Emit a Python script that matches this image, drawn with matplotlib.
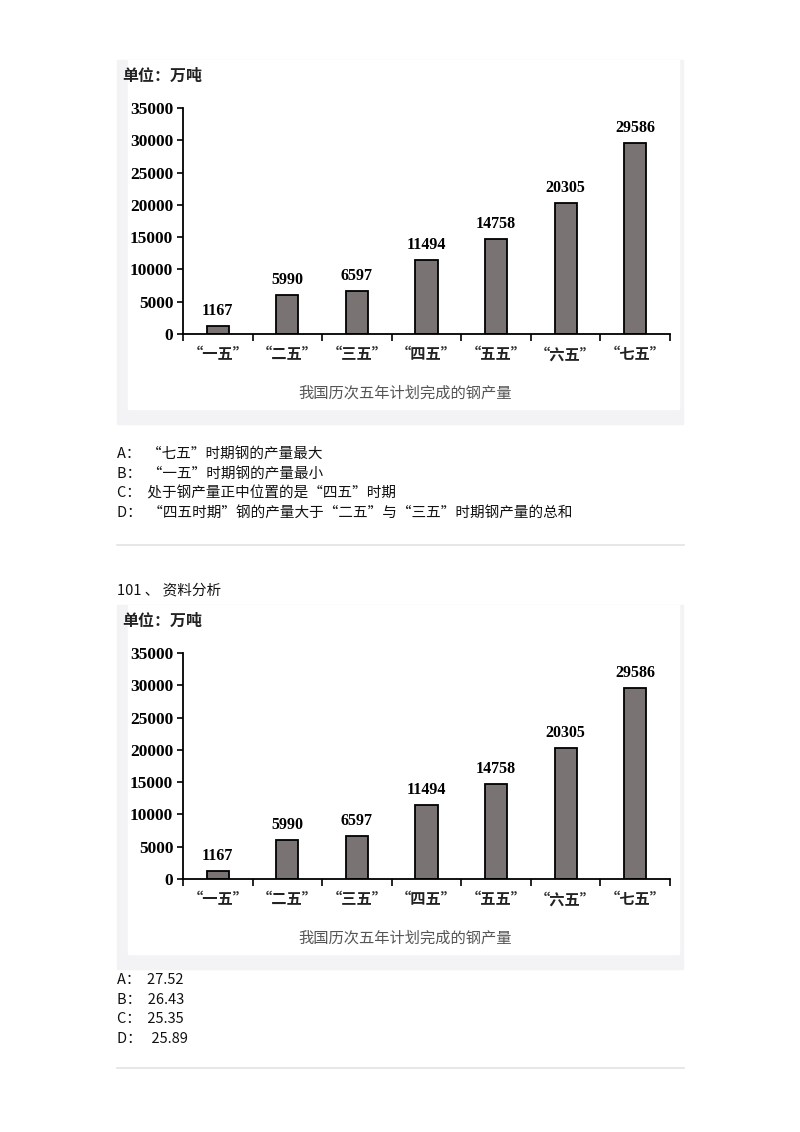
import matplotlib
matplotlib.use("Agg")
import matplotlib.pyplot as plt
from matplotlib.patches import Rectangle

W, H = 800, 1132
CJK = ['Noto Sans CJK SC', 'DejaVu Sans']
SERIF = ['Liberation Serif', 'DejaVu Serif']
plt.rcParams['font.family'] = CJK

# data
plans = ["“一五”", "“二五”", "“三五”", "“四五”", "“五五”", "“六五”", "“七五”"]
output = [1167, 5990, 6597, 11494, 14758, 20305, 29586]
yticks = [0, 5000, 10000, 15000, 20000, 25000, 30000, 35000]
unit = "单位：万吨"
caption = "我国历次五年计划完成的钢产量"

options_q1 = ["A：  “七五”时期钢的产量最大",
              "B：  “一五”时期钢的产量最小",
              "C：  处于钢产量正中位置的是“四五”时期",
              "D：  “四五时期”钢的产量大于“二五”与“三五”时期钢产量的总和"]
q2_title = "101 、 资料分析"
options_q2 = ["A：  27.52", "B：  26.43", "C：  25.35", "D：   25.89"]

fig = plt.figure(figsize=(W / 100, H / 100), dpi=100)
bg = fig.add_axes([0, 0, 1, 1])
bg.set_xlim(0, W)
bg.set_ylim(H, 0)
bg.axis('off')


def px_axes(x0, y0, x1, y1):
    return fig.add_axes([x0 / W, 1 - y1 / H, (x1 - x0) / W, (y1 - y0) / H])


def panel(top):
    # grey frame with white inner area
    bg.add_patch(Rectangle((117, top), 566, 364, color='#f3f3f5', zorder=0))
    bg.add_patch(Rectangle((128, top), 551, 349, color='white', zorder=1))
    bg.text(122, top + 16, unit, fontsize=11.5, fontweight='bold', color='#222222',
            va='center', ha='left', zorder=2)
    bg.text(405, top + 333, caption, fontsize=11, color='#555555',
            va='center', ha='center', zorder=2)

    ax = px_axes(183, top + 48, 670, top + 274)
    x = range(len(plans))
    ax.bar(x, output, width=0.32, color='#7a7373', edgecolor='black', linewidth=1.3)
    for xi, v in zip(x, output):
        ax.text(xi, v + 1100, str(v), ha='center', va='bottom', fontsize=11.5,
                fontweight='bold', family=SERIF)
    ax.set_xlim(-0.5, len(plans) - 0.5)
    ax.set_ylim(0, 35000)
    ax.set_yticks(yticks)
    ax.set_yticklabels([str(t) for t in yticks], family=SERIF, fontweight='bold', fontsize=12.5)
    ax.set_xticks([i - 0.5 for i in range(len(plans) + 1)])
    ax.set_xticklabels([])
    ax.set_xticks(list(x), minor=True)
    ax.set_xticklabels(plans, minor=True, fontsize=11, fontweight='bold', color='#222222')
    ax.tick_params(axis='x', which='minor', length=0, pad=9)
    ax.tick_params(axis='x', which='major', length=5, width=1.2, direction='out')
    ax.tick_params(axis='y', length=4, width=1.2, direction='out', pad=3)
    for s in ['top', 'right']:
        ax.spines[s].set_visible(False)
    for s in ['left', 'bottom']:
        ax.spines[s].set_linewidth(1.3)
    ax.patch.set_alpha(0)


def options(lines, y0):
    for i, line in enumerate(lines):
        bg.text(117, y0 + i * 19.5, line, fontsize=10.5, color='#111111',
                va='center', ha='left')


panel(60)
options(options_q1, 454)
bg.plot([117, 684], [545, 545], color='#e3e3e3', lw=1.2)
bg.text(117, 590, q2_title, fontsize=10.5, color='#111111', va='center', ha='left')
panel(605)
options(options_q2, 980)
bg.plot([117, 684], [1068, 1068], color='#e3e3e3', lw=1.2)

fig.savefig("out.png", dpi=100)
